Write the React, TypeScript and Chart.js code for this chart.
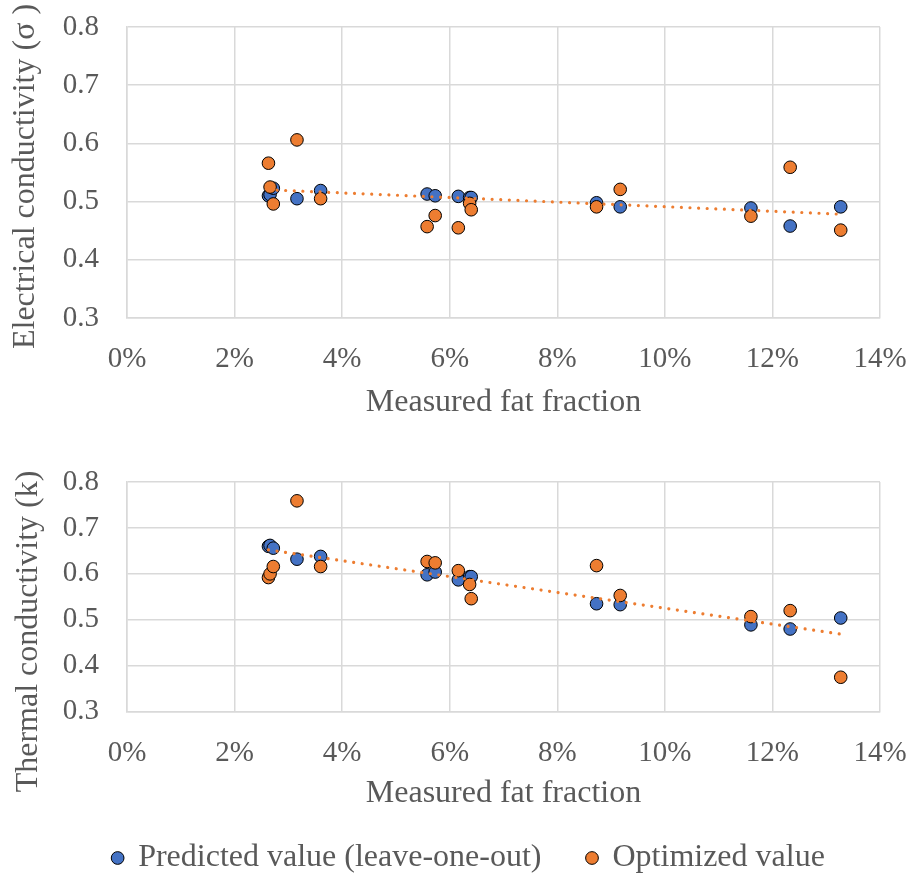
import React, { useEffect, useRef } from 'react';
import { Chart, registerables } from 'chart.js';

Chart.register(...registerables);

// ---- Data ----
const fatFraction = [2.63, 2.66, 2.72, 3.16, 3.6, 5.58, 5.73, 6.16, 6.37, 6.4, 8.73, 9.17, 11.6, 12.33, 13.27];
const sigmaPredicted = [0.51, 0.512, 0.523, 0.505, 0.519, 0.513, 0.51, 0.509, 0.507, 0.507, 0.498, 0.491, 0.489, 0.458, 0.491];
const sigmaOptimized = [0.566, 0.525, 0.496, 0.606, 0.505, 0.457, 0.476, 0.455, 0.497, 0.486, 0.491, 0.521, 0.475, 0.559, 0.451];
const kPredicted = [0.66, 0.662, 0.656, 0.632, 0.638, 0.598, 0.604, 0.587, 0.594, 0.594, 0.535, 0.533, 0.489, 0.48, 0.504];
const kOptimized = [0.592, 0.6, 0.616, 0.759, 0.616, 0.627, 0.624, 0.607, 0.577, 0.546, 0.618, 0.553, 0.507, 0.52, 0.375];

const xTickLabels = ['0%', '2%', '4%', '6%', '8%', '10%', '12%', '14%'];
const yTickLabels = ['0.3', '0.4', '0.5', '0.6', '0.7', '0.8'];

const seriesNames = ['Predicted value (leave-one-out)', 'Optimized value'];
const xTitle = 'Measured fat fraction';
const sigmaTitle = 'Electrical conductivity (σ )';
const kTitle = 'Thermal conductivity (k)';

// ---- Styles ----
const BLUE = '#4472C4';
const ORANGE = '#ED7D31';
const GRID = '#D9D9D9';
const TEXT = '#595959';
const CLEAR = 'rgba(0,0,0,0)';
const FONT = "'Liberation Serif', 'Times New Roman', serif";

Chart.defaults.font.family = FONT;

function linearTrend(xs: number[], ys: number[]) {
  const n = xs.length;
  const mx = xs.reduce((a, b) => a + b, 0) / n;
  const my = ys.reduce((a, b) => a + b, 0) / n;
  let sxy = 0;
  let sxx = 0;
  for (let i = 0; i < n; i++) {
    sxy += (xs[i] - mx) * (ys[i] - my);
    sxx += (xs[i] - mx) * (xs[i] - mx);
  }
  const b = sxy / sxx;
  const a = my - b * mx;
  const x0 = Math.min(...xs);
  const x1 = Math.max(...xs);
  return [
    { x: x0, y: a + b * x0 },
    { x: x1, y: a + b * x1 },
  ];
}

const sideTitlePlugin = {
  id: 'sideTitle',
  afterDraw(chart: any, _args: any, opts: any) {
    if (!opts || !opts.text) return;
    const ctx = chart.ctx;
    ctx.save();
    ctx.translate(opts.x, opts.y);
    ctx.rotate(-Math.PI / 2);
    ctx.font = `${opts.size}px ${FONT}`;
    ctx.fillStyle = opts.color;
    ctx.textAlign = 'center';
    ctx.textBaseline = 'middle';
    ctx.fillText(opts.text, 0, 0);
    ctx.restore();
  },
};

interface Cfg {
  pred: number[];
  opt: number[];
  yTitle: string;
  yTitleX: number;
  yTitleY: number;
  padding: { top: number; left: number; right: number; bottom: number };
  yAxisRight: number;
  xAxisHeight: number;
  xTitlePadBottom: number;
  legend: boolean;
}

function makeConfig(c: Cfg): any {
  const pts = (ys: number[]) => fatFraction.map((x, i) => ({ x, y: ys[i] }));
  return {
    type: 'scatter',
    data: {
      datasets: [
        {
          label: seriesNames[0],
          data: pts(c.pred),
          backgroundColor: BLUE,
          borderColor: '#000000',
          borderWidth: 1,
          pointRadius: 6.3,
          pointStyle: 'circle',
          order: 3,
        },
        {
          label: seriesNames[1],
          data: pts(c.opt),
          backgroundColor: ORANGE,
          borderColor: '#000000',
          borderWidth: 1,
          pointRadius: 6.3,
          pointStyle: 'circle',
          order: 2,
        },
        {
          label: 'Linear (Optimized value)',
          data: linearTrend(fatFraction, c.opt),
          showLine: true,
          borderColor: ORANGE,
          backgroundColor: ORANGE,
          borderWidth: 3.2,
          borderDash: [0.01, 8.6],
          borderCapStyle: 'round',
          pointRadius: 0,
          fill: false,
          order: 1,
        },
      ],
    },
    options: {
      responsive: false,
      animation: false,
      devicePixelRatio: 1,
      events: [],
      layout: { padding: c.padding },
      scales: {
        x: {
          type: 'linear',
          min: 0,
          max: 14,
          ticks: {
            stepSize: 2,
            padding: 0,
            autoSkip: false,
            maxRotation: 0,
            color: TEXT,
            font: { size: 29, family: FONT },
            callback: (v: number, i: number) => xTickLabels[i] ?? `${v}%`,
          },
          grid: { color: GRID, lineWidth: 1.5, drawTicks: true, tickLength: 24, tickColor: CLEAR },
          border: { color: GRID, width: 1.5 },
          title: {
            display: true,
            text: xTitle,
            color: TEXT,
            font: { size: 32, family: FONT },
            padding: { top: 0, bottom: c.xTitlePadBottom },
          },
          afterFit: (s: any) => {
            s.height = c.xAxisHeight;
          },
        },
        y: {
          type: 'linear',
          min: 0.3,
          max: 0.8,
          ticks: {
            stepSize: 0.1,
            padding: 9,
            autoSkip: false,
            color: TEXT,
            font: { size: 29, family: FONT },
            callback: (v: number, i: number) => yTickLabels[i] ?? v.toFixed(1),
          },
          grid: { color: GRID, lineWidth: 1.5, drawTicks: true, tickLength: 19, tickColor: CLEAR },
          border: { color: GRID, width: 1.5 },
          afterFit: (s: any) => {
            s.width = c.yAxisRight - c.padding.left;
          },
        },
      },
      plugins: {
        tooltip: { enabled: false },
        legend: {
          display: c.legend,
          position: 'bottom',
          labels: {
            usePointStyle: true,
            pointStyle: 'circle',
            boxWidth: 9,
            boxHeight: 9,
            padding: 46,
            color: TEXT,
            font: { size: 32, family: FONT },
            filter: (item: any) => item.datasetIndex !== 2,
            sort: (a: any, b: any) => a.datasetIndex - b.datasetIndex,
          },
        },
        sideTitle: { text: c.yTitle, x: c.yTitleX, y: c.yTitleY, size: 32, color: TEXT },
      },
    },
    plugins: [sideTitlePlugin],
  };
}

export default function App() {
  const ref1 = useRef<HTMLCanvasElement>(null);
  const ref2 = useRef<HTMLCanvasElement>(null);

  useEffect(() => {
    const c1 = new Chart(
      ref1.current as HTMLCanvasElement,
      makeConfig({
        pred: sigmaPredicted,
        opt: sigmaOptimized,
        yTitle: sigmaTitle,
        yTitleX: 26,
        yTitleY: 176.5,
        padding: { top: 27, left: 0, right: 33, bottom: 0 },
        yAxisRight: 127,
        xAxisHeight: 112,
        xTitlePadBottom: 8,
        legend: false,
      })
    );
    const c2 = new Chart(
      ref2.current as HTMLCanvasElement,
      makeConfig({
        pred: kPredicted,
        opt: kOptimized,
        yTitle: kTitle,
        yTitleX: 29,
        yTitleY: 201.5,
        padding: { top: 52, left: 58, right: 33, bottom: 0 },
        yAxisRight: 127,
        xAxisHeight: 84.3,
        xTitlePadBottom: -17.2,
        legend: true,
      })
    );
    return () => {
      c1.destroy();
      c2.destroy();
    };
  }, []);

  return (
    <div
      style={{
        position: 'absolute',
        left: 0,
        top: 0,
        width: 913,
        height: 878,
        overflow: 'hidden',
        background: '#ffffff',
      }}
    >
      <canvas ref={ref1} width={913} height={430} style={{ position: 'absolute', left: 0, top: 0 }} />
      <canvas ref={ref2} width={913} height={454} style={{ position: 'absolute', left: 0, top: 430 }} />
    </div>
  );
}
